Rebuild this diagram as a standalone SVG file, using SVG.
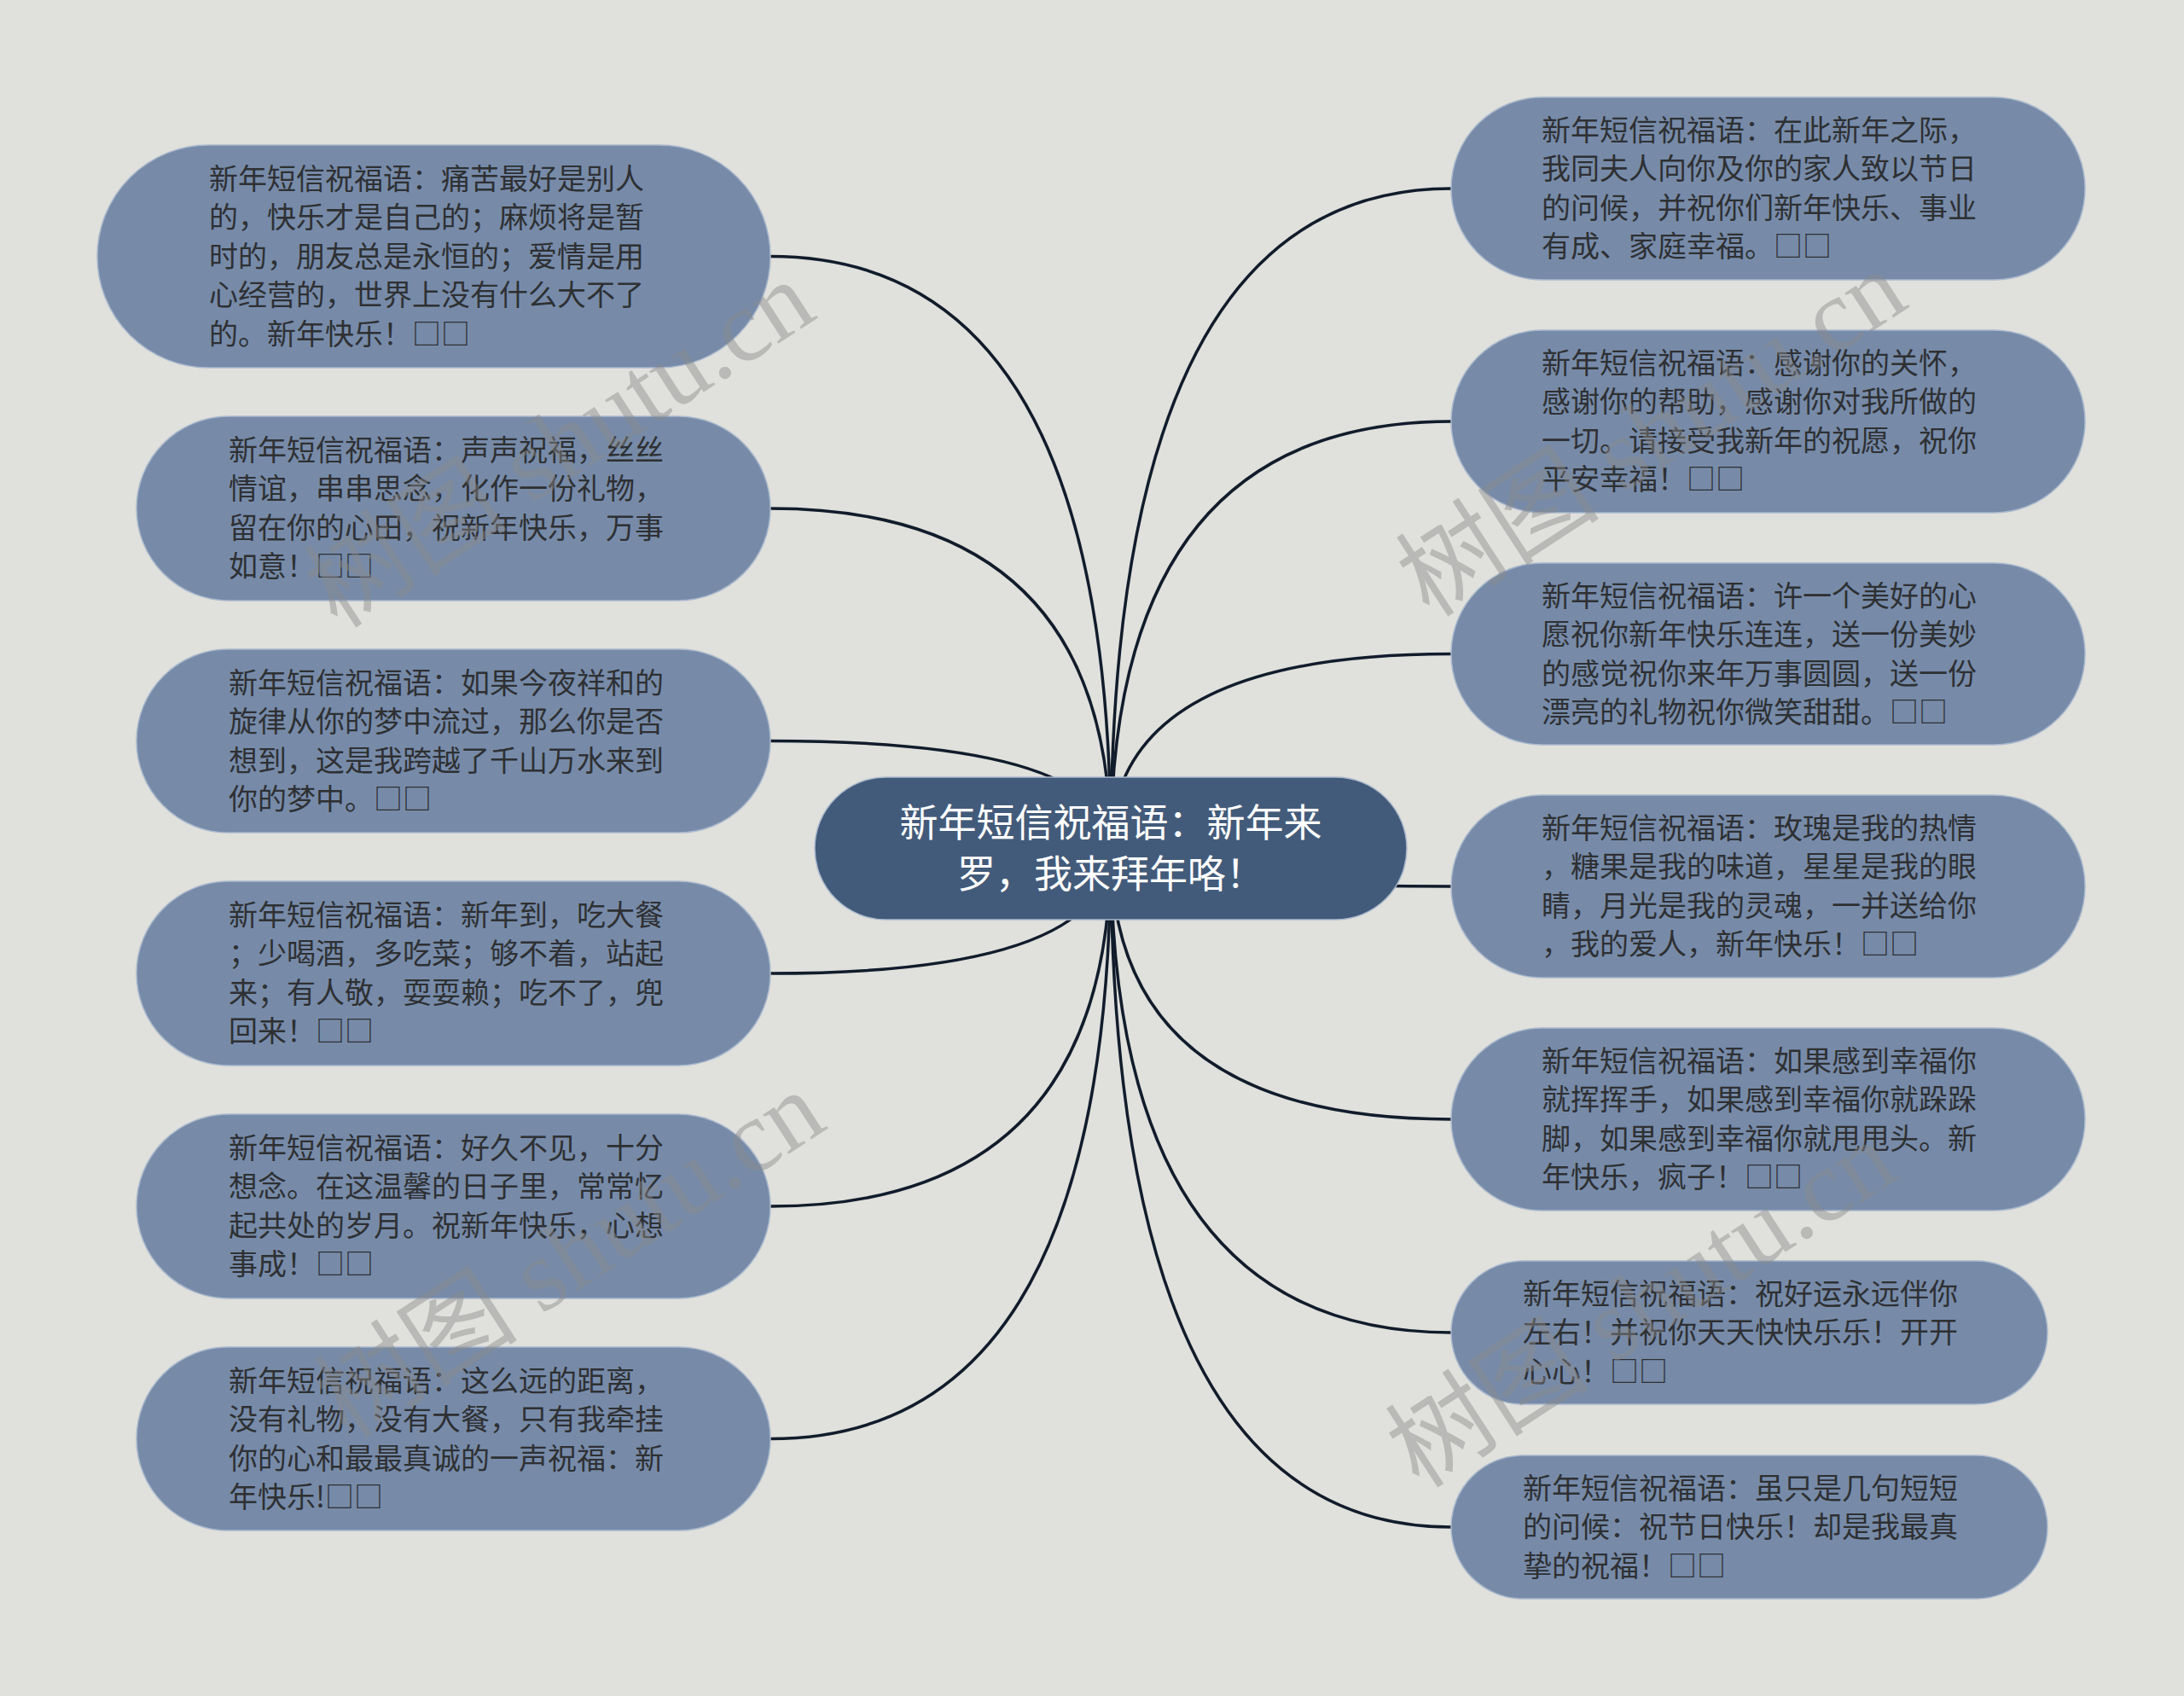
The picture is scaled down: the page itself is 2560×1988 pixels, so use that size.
<svg xmlns="http://www.w3.org/2000/svg" width="2560" height="1988" viewBox="0 0 2560 1988">
<style>
.bg{fill:#e0e0dc}
.node rect{fill:#778ba9;stroke:#a9b8cc;stroke-width:1.5}
.node text{font-family:"Noto Sans CJK SC","Noto Sans",sans-serif;font-size:34px;fill:#2e3033}
#center rect{fill:#435b7a;stroke:#a9b8cc;stroke-width:1.5}
#center text{font-family:"Noto Sans CJK SC","Noto Sans",sans-serif;font-size:45px;fill:#ffffff;text-anchor:middle}
#connectors path{fill:none;stroke:#111c2b;stroke-width:3.5}
.wm{font-family:"Liberation Serif","Noto Sans CJK SC",serif;font-size:120px;fill:#8a8a8a;fill-opacity:0.45;text-anchor:middle}
</style>
<rect class="bg" x="0" y="0" width="2560" height="1988"/>
<g id="connectors">
<path d="M1302 994 Q1302 300.5 903 300.5"/>
<path d="M1302 994 Q1302 596 903 596"/>
<path d="M1302 994 Q1302 868.5 903 868.5"/>
<path d="M1302 994 Q1302 1141 903 1141"/>
<path d="M1302 994 Q1302 1414 903 1414"/>
<path d="M1302 994 Q1302 1686.5 903 1686.5"/>
<path d="M1302 994 Q1302 221 1701 221"/>
<path d="M1302 994 Q1302 494 1701 494"/>
<path d="M1302 994 Q1302 766.5 1701 766.5"/>
<path d="M1302 994 Q1302 1039 1701 1039"/>
<path d="M1302 994 Q1302 1312 1701 1312"/>
<path d="M1302 994 Q1302 1562 1701 1562"/>
<path d="M1302 994 Q1302 1790 1701 1790"/>
</g>
<g id="center">
<rect x="955" y="911" width="694" height="167" rx="83.5"/>
<text><tspan x="1302" y="981">新年短信祝福语：新年来</tspan><tspan x="1302" y="1041">罗，我来拜年咯！</tspan></text>
</g>
<g id="L1" class="node">
<rect x="114" y="170" width="789" height="261" rx="130.5"/>
<text><tspan x="245" y="222">新年短信祝福语：痛苦最好是别人</tspan><tspan x="245" y="267">的，快乐才是自己的；麻烦将是暂</tspan><tspan x="245" y="313">时的，朋友总是永恒的；爱情是用</tspan><tspan x="245" y="358">心经营的，世界上没有什么大不了</tspan><tspan x="245" y="404">的。新年快乐！□□</tspan></text>
</g>
<g id="L2" class="node">
<rect x="160" y="488" width="743" height="216" rx="108"/>
<text><tspan x="268" y="540">新年短信祝福语：声声祝福，丝丝</tspan><tspan x="268" y="585">情谊，串串思念，化作一份礼物，</tspan><tspan x="268" y="631">留在你的心田，祝新年快乐，万事</tspan><tspan x="268" y="676">如意！□□</tspan></text>
</g>
<g id="L3" class="node">
<rect x="160" y="761" width="743" height="215" rx="107.5"/>
<text><tspan x="268" y="813">新年短信祝福语：如果今夜祥和的</tspan><tspan x="268" y="858">旋律从你的梦中流过，那么你是否</tspan><tspan x="268" y="904">想到，这是我跨越了千山万水来到</tspan><tspan x="268" y="949">你的梦中。□□</tspan></text>
</g>
<g id="L4" class="node">
<rect x="160" y="1033" width="743" height="216" rx="108"/>
<text><tspan x="268" y="1085">新年短信祝福语：新年到，吃大餐</tspan><tspan x="268" y="1130">；少喝酒，多吃菜；够不着，站起</tspan><tspan x="268" y="1176">来；有人敬，耍耍赖；吃不了，兜</tspan><tspan x="268" y="1221">回来！□□</tspan></text>
</g>
<g id="L5" class="node">
<rect x="160" y="1306" width="743" height="216" rx="108"/>
<text><tspan x="268" y="1358">新年短信祝福语：好久不见，十分</tspan><tspan x="268" y="1403">想念。在这温馨的日子里，常常忆</tspan><tspan x="268" y="1449">起共处的岁月。祝新年快乐，心想</tspan><tspan x="268" y="1494">事成！□□</tspan></text>
</g>
<g id="L6" class="node">
<rect x="160" y="1579" width="743" height="215" rx="107.5"/>
<text><tspan x="268" y="1631">新年短信祝福语：这么远的距离，</tspan><tspan x="268" y="1676">没有礼物，没有大餐，只有我牵挂</tspan><tspan x="268" y="1722">你的心和最最真诚的一声祝福：新</tspan><tspan x="268" y="1767">年快乐!□□</tspan></text>
</g>
<g id="R1" class="node">
<rect x="1701" y="114" width="743" height="214" rx="107"/>
<text><tspan x="1807" y="165">新年短信祝福语：在此新年之际，</tspan><tspan x="1807" y="210">我同夫人向你及你的家人致以节日</tspan><tspan x="1807" y="256">的问候，并祝你们新年快乐、事业</tspan><tspan x="1807" y="301">有成、家庭幸福。□□</tspan></text>
</g>
<g id="R2" class="node">
<rect x="1701" y="387" width="743" height="214" rx="107"/>
<text><tspan x="1807" y="438">新年短信祝福语：感谢你的关怀，</tspan><tspan x="1807" y="483">感谢你的帮助，感谢你对我所做的</tspan><tspan x="1807" y="529">一切。请接受我新年的祝愿，祝你</tspan><tspan x="1807" y="574">平安幸福！□□</tspan></text>
</g>
<g id="R3" class="node">
<rect x="1701" y="660" width="743" height="213" rx="106.5"/>
<text><tspan x="1807" y="711">新年短信祝福语：许一个美好的心</tspan><tspan x="1807" y="756">愿祝你新年快乐连连，送一份美妙</tspan><tspan x="1807" y="802">的感觉祝你来年万事圆圆，送一份</tspan><tspan x="1807" y="847">漂亮的礼物祝你微笑甜甜。□□</tspan></text>
</g>
<g id="R4" class="node">
<rect x="1701" y="932" width="743" height="214" rx="107"/>
<text><tspan x="1807" y="983">新年短信祝福语：玫瑰是我的热情</tspan><tspan x="1807" y="1028">，糖果是我的味道，星星是我的眼</tspan><tspan x="1807" y="1074">睛，月光是我的灵魂，一并送给你</tspan><tspan x="1807" y="1119">，我的爱人，新年快乐！□□</tspan></text>
</g>
<g id="R5" class="node">
<rect x="1701" y="1205" width="743" height="214" rx="107"/>
<text><tspan x="1807" y="1256">新年短信祝福语：如果感到幸福你</tspan><tspan x="1807" y="1301">就挥挥手，如果感到幸福你就跺跺</tspan><tspan x="1807" y="1347">脚，如果感到幸福你就甩甩头。新</tspan><tspan x="1807" y="1392">年快乐，疯子！□□</tspan></text>
</g>
<g id="R6" class="node">
<rect x="1701" y="1478" width="699" height="168" rx="84"/>
<text><tspan x="1785" y="1529">新年短信祝福语：祝好运永远伴你</tspan><tspan x="1785" y="1574">左右！并祝你天天快快乐乐！开开</tspan><tspan x="1785" y="1620">心心！□□</tspan></text>
</g>
<g id="R7" class="node">
<rect x="1701" y="1706" width="699" height="168" rx="84"/>
<text><tspan x="1785" y="1757">新年短信祝福语：虽只是几句短短</tspan><tspan x="1785" y="1802">的问候：祝节日快乐！却是我最真</tspan><tspan x="1785" y="1848">挚的祝福！□□</tspan></text>
</g>
<g id="watermarks">
<text class="wm" transform="translate(678,555) rotate(-33)">树图 shutu.cn</text>
<text class="wm" transform="translate(1958,542) rotate(-33)">树图 shutu.cn</text>
<text class="wm" transform="translate(690,1505) rotate(-33)">树图 shutu.cn</text>
<text class="wm" transform="translate(1946,1563) rotate(-33)">树图 shutu.cn</text>
</g>
</svg>
